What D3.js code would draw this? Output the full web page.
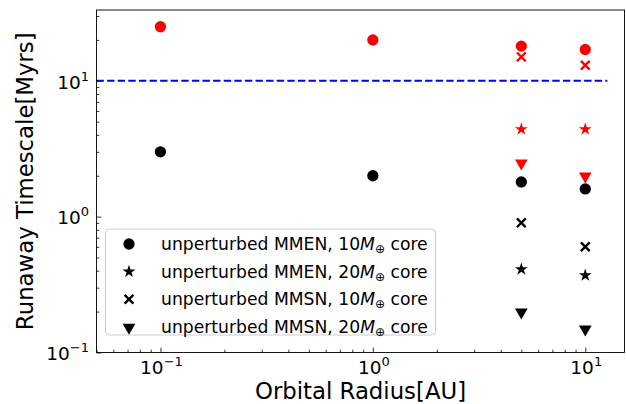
<!DOCTYPE html>
<html>
<head>
<meta charset="utf-8">
<script src="https://cdn.jsdelivr.net/npm/d3@7"></script>
<style>
  html, body { margin: 0; padding: 0; background: #fff; }
  svg { display: block; font-family: "DejaVu Sans", sans-serif; }
</style>
</head>
<body>
<svg id="chart" width="626" height="404"></svg>
<script>
// Orbital radii of the cores (AU)
const radiiAU = [0.1, 1, 5, 10];

// Runaway timescales (Myr), unperturbed discs
const mmen10Unpert = [3, 2, 1.8, 1.6];
const mmen20Unpert = [null, null, 0.41, 0.37];
const mmsn10Unpert = [null, null, 0.9, 0.6];
const mmsn20Unpert = [null, null, 0.2, 0.15];

// Runaway timescales (Myr), perturbed discs
const mmen10Pert = [25, 20, 18, 17];
const mmen20Pert = [null, null, 4.4, 4.4];
const mmsn10Pert = [null, null, 15, 13];
const mmsn20Pert = [null, null, 2.5, 2.0];

// Disc lifetime reference level (Myr)
const discLifetime = 10;
const discLineExtent = [0.05, 12.7];

const xTickValues = [0.1, 1, 10];
const xTickExps = ["\u22121", "0", "1"];
const yTickValues = [0.1, 1, 10];
const yTickExps = ["\u22121", "0", "1"];

const legendLabels = [
  ["unperturbed MMEN, 10", " core"],
  ["unperturbed MMEN, 20", " core"],
  ["unperturbed MMSN, 10", " core"],
  ["unperturbed MMSN, 20", " core"]
];

const svg = d3.select("#chart");
const plot = { left: 96.5, right: 624.5, top: 10, bottom: 352.5 };

const x = d3.scaleLog().domain([0.05, 15.3]).range([plot.left, plot.right]);
const y = d3.scaleLog().domain([0.1, 33.2]).range([plot.bottom, plot.top]);

// Tick marks (inward, major and minor)
const xMinor = [];
for (let e = -2; e <= 1; e++) for (let m = 1; m <= 9; m++) {
  const v = m * Math.pow(10, e);
  if (v >= 0.05 && v <= 15.3) xMinor.push(v);
}
const yMinor = [];
for (let e = -1; e <= 1; e++) for (let m = 1; m <= 9; m++) {
  const v = m * Math.pow(10, e);
  if (v >= 0.1 && v <= 33.2) yMinor.push(v);
}

const xAxis = d3.axisBottom(x).tickValues(xMinor).tickSize(-2.8).tickFormat("");
const yAxis = d3.axisLeft(y).tickValues(yMinor).tickSize(-2.8).tickFormat("");
const gx = svg.append("g").attr("transform", `translate(0,${plot.bottom})`).call(xAxis);
const gy = svg.append("g").attr("transform", `translate(${plot.left},0)`).call(yAxis);
[gx, gy].forEach(g => {
  g.select(".domain").remove();
  g.selectAll("line").attr("stroke", "#000").attr("stroke-width", 0.8);
});
gx.selectAll(".tick").filter(d => xTickValues.includes(d)).select("line").attr("y2", -4.9);
gy.selectAll(".tick").filter(d => yTickValues.includes(d)).select("line").attr("x2", 4.9);

// Tick labels as 10^n
xTickValues.forEach((v, i) => {
  const t = svg.append("text")
    .attr("x", x(v) + 1).attr("y", plot.bottom + 21)
    .attr("text-anchor", "middle").attr("font-size", 18.5).attr("fill", "#000");
  t.append("tspan").text("10");
  t.append("tspan").attr("font-size", 13).attr("dy", -8).text(xTickExps[i]);
});
yTickValues.forEach((v, i) => {
  const t = svg.append("text")
    .attr("x", plot.left - 7.5).attr("y", y(v) + 7.8)
    .attr("text-anchor", "end").attr("font-size", 18.5).attr("fill", "#000");
  t.append("tspan").text("10");
  t.append("tspan").attr("font-size", 13).attr("dy", -8).text(yTickExps[i]);
});

// Axis titles
svg.append("text")
  .attr("x", (plot.left + plot.right) / 2).attr("y", 399)
  .attr("text-anchor", "middle").attr("font-size", 22.8).attr("fill", "#000")
  .text("Orbital Radius[AU]");
svg.append("text")
  .attr("transform", `translate(33,${(plot.top + plot.bottom) / 2}) rotate(-90)`)
  .attr("text-anchor", "middle").attr("font-size", 22.8).attr("fill", "#000")
  .text("Runaway Timescale[Myrs]");

// Disc lifetime line
svg.append("line")
  .attr("x1", x(discLineExtent[0])).attr("x2", x(discLineExtent[1]))
  .attr("y1", y(discLifetime)).attr("y2", y(discLifetime))
  .attr("stroke", "#0000ff").attr("stroke-width", 2)
  .attr("stroke-dasharray", "7.4,3.2");

// Marker shapes
const markerPath = {
  circle: d3.symbol().type(d3.symbolCircle).size(100)(),
  star: d3.symbol().type(d3.symbolStar).size(52)(),
  tri: d3.symbol().type(d3.symbolTriangle).size(70)(),
  cross: "M-4.4,-4.4L4.4,4.4M-4.4,4.4L4.4,-4.4"
};

function drawMarker(g, kind, cx, cy, color) {
  const p = g.append("path").attr("d", markerPath[kind]);
  if (kind === "cross") {
    p.attr("fill", "none").attr("stroke", color).attr("stroke-width", 2.4)
     .attr("transform", `translate(${cx},${cy})`);
  } else if (kind === "tri") {
    p.attr("fill", color).attr("transform", `translate(${cx},${cy + 0.5}) rotate(180)`);
  } else {
    p.attr("fill", color).attr("transform", `translate(${cx},${cy})`);
  }
}

const series = [
  { values: mmen10Pert, kind: "circle", color: "#ff0000" },
  { values: mmen20Pert, kind: "star", color: "#ff0000" },
  { values: mmsn10Pert, kind: "cross", color: "#ff0000" },
  { values: mmsn20Pert, kind: "tri", color: "#ff0000" },
  { values: mmen10Unpert, kind: "circle", color: "#000000" },
  { values: mmen20Unpert, kind: "star", color: "#000000" },
  { values: mmsn10Unpert, kind: "cross", color: "#000000" },
  { values: mmsn20Unpert, kind: "tri", color: "#000000" }
];

const marks = svg.append("g");
series.forEach(s => {
  s.values.forEach((v, i) => {
    if (v == null) return;
    drawMarker(marks, s.kind, x(radiiAU[i]), y(v), s.color);
  });
});

// Frame
svg.append("rect")
  .attr("x", plot.left).attr("y", plot.top)
  .attr("width", plot.right - plot.left).attr("height", plot.bottom - plot.top)
  .attr("fill", "none").attr("stroke", "#000").attr("stroke-width", 0.9);

// Legend
const legend = svg.append("g");
legend.append("rect")
  .attr("x", 105.5).attr("y", 229).attr("width", 330).attr("height", 106)
  .attr("rx", 4).attr("fill", "#fff").attr("fill-opacity", 0.8)
  .attr("stroke", "#cccccc").attr("stroke-width", 1);
const legendKinds = ["circle", "star", "cross", "tri"];
legendLabels.forEach((lab, i) => {
  const ry = 244 + i * 27.6;
  drawMarker(legend, legendKinds[i], 129, ry, "#000");
  const t = legend.append("text")
    .attr("x", 161).attr("y", ry + 6)
    .attr("font-size", 17.2).attr("fill", "#000");
  t.append("tspan").text(lab[0]);
  t.append("tspan").attr("font-style", "italic").text("M");
  t.append("tspan").attr("font-size", 12).attr("dy", 3).text("\u2295");
  t.append("tspan").attr("dy", -3).text(lab[1]);
});
</script>
</body>
</html>
